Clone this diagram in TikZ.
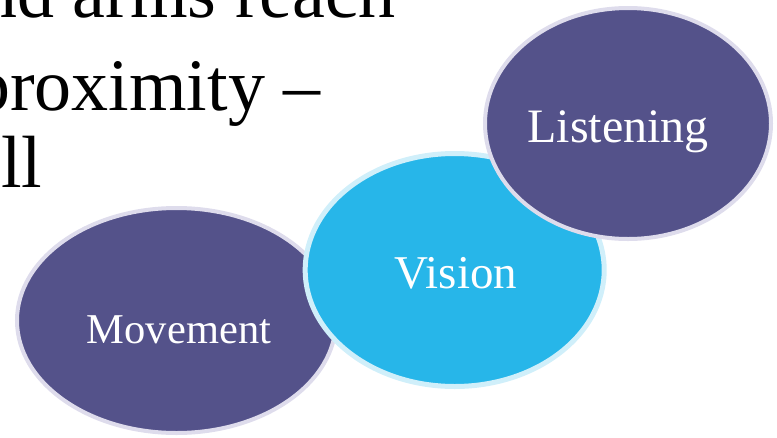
\documentclass[tikz,border=0pt]{standalone}
\usepackage{fontspec}
\setmainfont{Liberation Serif}
\usetikzlibrary{shapes.geometric}
\definecolor{plum}{RGB}{84,82,138}
\definecolor{plumrim}{RGB}{222,220,236}
\definecolor{sky}{RGB}{39,182,233}
\definecolor{skyrim}{RGB}{208,239,250}
\tikzset{
  bubble/.style={ellipse, inner sep=0pt, line width=4pt, fill=plum, draw=plumrim},
  word/.style={anchor=base, text=white, font=\fontsize{#1}{54}\selectfont},
  word/.default=47,
  big/.style={anchor=base west, inner sep=0pt, font=\fontsize{74}{80}\selectfont}
}
\begin{document}
\begin{tikzpicture}[x=1pt,y=-1pt]
  \useasboundingbox (0,0) rectangle (777,437);
  \clip (0,0) rectangle (777,437);
  % body text running in from the left
  \node[big] (line1) at (-20,17) {nd arms reach};
  \node[big] (line2) at (-27,110) {proximity –};
  \node[big] (line3) at (1,187) {ll};
  % the three bubbles, back to front
  \node[bubble, minimum width=319pt, minimum height=225pt] (move) at (176.5,320.5) {};
  \node[word=42.5] (movelbl) at (179,343) {Movement};
  \node[bubble, fill=sky, draw=skyrim, line width=5pt,
        minimum width=299pt, minimum height=233pt] (vision) at (454.7,270) {};
  \node[word] (visionlbl) at (456,288) {Vision};
  \node[bubble, minimum width=286pt, minimum height=231pt] (listen) at (628,123.5) {};
  \node[word=48] (listenlbl) at (618,142) {Listening};
\end{tikzpicture}
\end{document}
